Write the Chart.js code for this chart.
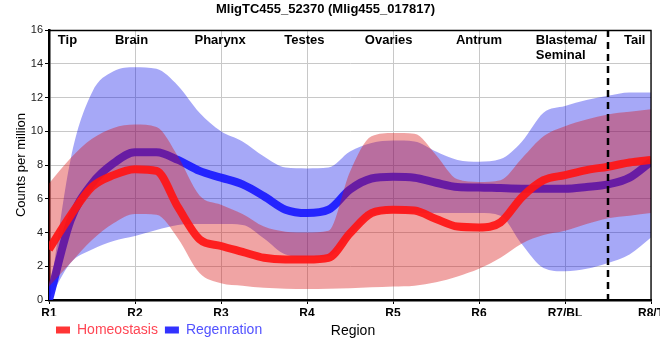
<!DOCTYPE html>
<html><head><meta charset="utf-8">
<script src="https://cdn.jsdelivr.net/npm/chart.js@4.4.0/dist/chart.umd.min.js"></script>
<style>html,body{margin:0;padding:0;background:#fff}#wrap{width:660px;height:360px}</style>
</head><body><div id="wrap"><canvas id="c" width="660" height="360"></canvas></div>
<script>
// ---- data ----
const chartTitle = 'MligTC455_52370 (Mlig455_017817)';
const regionTicks = ['R1','R2','R3','R4','R5','R6','R7/BL','R8/T'];
const regionNames = ['Tip','Brain','Pharynx','Testes','Ovaries','Antrum','Blastema/\nSeminal','Tail'];
const seriesNames = ['Homeostasis','Regenration'];
const tailBoundary = 6.5;
// sample positions along the region axis (R1 = 0 ... R8/T = 7)
const samplePos = [0,0.25,0.5,0.75,1,1.25,1.5,1.75,2,2.25,2.5,2.75,3,3.25,3.5,3.75,4,4.25,4.5,4.75,5,5.25,5.5,5.75,6,6.25,6.5,6.75,7];
const homMean = [3.0,5.0,6.7,7.4,7.75,7.65,5.5,3.6,3.2,2.85,2.5,2.4,2.4,2.5,3.95,5.15,5.35,5.3,4.8,4.35,4.3,4.6,6.1,7.1,7.4,7.7,7.9,8.15,8.3];
const homHigh = [6.9,8.4,9.55,10.2,10.4,10.25,8.5,6.2,5.65,5.1,4.35,4.05,4.0,4.1,7.6,9.7,9.9,9.85,8.6,7.15,7.0,7.1,8.4,9.7,10.3,10.7,11.0,11.15,11.3];
const homLow = [0.8,2.2,3.55,4.55,5.1,5.05,3.65,1.6,1.0,0.85,0.72,0.67,0.65,0.67,0.7,0.75,0.8,0.85,1.05,1.4,1.85,2.5,3.35,3.85,4.1,4.5,4.85,5.0,5.15];
const regMean = [0,4.7,6.9,8.1,8.75,8.75,8.3,7.65,7.25,6.85,6.15,5.35,5.15,5.35,6.55,7.2,7.3,7.25,6.95,6.7,6.67,6.63,6.6,6.6,6.6,6.7,6.85,7.25,8.2];
const regHigh = [0,8.3,12.3,13.55,13.8,13.7,12.7,11.1,10.0,9.4,8.5,7.85,7.8,7.85,8.8,9.3,9.45,9.4,8.8,8.3,8.2,8.35,9.4,11.1,11.5,11.85,12.1,12.3,12.3];
const regLow = [0,2.2,3.0,3.5,3.8,4.15,4.45,4.5,4.5,4.45,3.65,2.7,2.55,2.6,3.8,5.0,5.15,5.15,5.15,5.15,5.15,5.0,3.3,1.9,1.7,1.85,2.2,2.7,3.7];

// ---- styling ----
const FONT = '"Liberation Sans", Arial, sans-serif';
const RED_LINE = 'rgba(255,22,22,0.93)';
const RED_BAND = 'rgba(215,15,15,0.38)';
const BLUE_LINE = 'rgba(25,25,255,0.92)';
const BLUE_BAND = 'rgba(0,5,232,0.35)';
const pts = arr => samplePos.map((p, i) => ({x: p, y: arr[i]}));

// region label placement (x in axis units, alignment)
const labelPos = [0.215, 0.96, 1.99, 2.97, 3.95, 5.0, 5.66, 6.81];
const labelAlign = ['center','center','center','center','center','center','left','center'];

const decor = {
  id: 'decor',
  afterDatasetsDraw(chart) {
    const {ctx, chartArea: a, scales: {x}} = chart;
    ctx.save();
    const xd = x.getPixelForValue(tailBoundary);
    ctx.strokeStyle = '#000';
    ctx.lineWidth = 2.5;
    ctx.setLineDash([7, 5]);
    ctx.beginPath(); ctx.moveTo(xd, a.top); ctx.lineTo(xd, a.bottom + 4); ctx.stroke();
    ctx.setLineDash([]);
    ctx.lineWidth = 1.3;
    ctx.beginPath(); ctx.moveTo(a.left, a.top + 0.5); ctx.lineTo(a.right, a.top + 0.5); ctx.lineTo(a.right, a.bottom); ctx.stroke();
    ctx.font = 'bold 13px ' + FONT;
    ctx.fillStyle = '#000';
    ctx.textBaseline = 'alphabetic';
    regionNames.forEach((name, i) => {
      const px = x.getPixelForValue(labelPos[i]);
      ctx.textAlign = labelAlign[i];
      name.split('\n').forEach((ln, j) => ctx.fillText(ln, px, a.top + 14 + j * 15));
    });
    ctx.restore();
  },
  afterDraw(chart) {
    const {ctx, chartArea: a} = chart;
    ctx.save();
    ctx.font = '14px ' + FONT;
    ctx.fillStyle = '#000';
    ctx.textAlign = 'center';
    ctx.textBaseline = 'middle';
    ctx.fillText('Region', (a.left + a.right) / 2 + 3, 331);
    ctx.restore();
  }
};

new Chart(document.getElementById('c'), {
  type: 'line',
  data: {
    datasets: [
      {label: seriesNames[0], data: pts(homMean), borderColor: RED_LINE, backgroundColor: RED_LINE, borderWidth: 8, pointRadius: 0, fill: false, cubicInterpolationMode: 'monotone', order: 1},
      {label: 'hom-high', data: pts(homHigh), borderWidth: 0, borderColor: 'rgba(0,0,0,0)', backgroundColor: RED_BAND, pointRadius: 0, fill: '+1', cubicInterpolationMode: 'monotone', order: 2},
      {label: 'hom-low', data: pts(homLow), borderWidth: 0, borderColor: 'rgba(0,0,0,0)', pointRadius: 0, fill: false, cubicInterpolationMode: 'monotone', order: 2},
      {label: seriesNames[1], data: pts(regMean), borderColor: BLUE_LINE, backgroundColor: BLUE_LINE, borderWidth: 8, pointRadius: 0, fill: false, cubicInterpolationMode: 'monotone', order: 3},
      {label: 'reg-high', data: pts(regHigh), borderWidth: 0, borderColor: 'rgba(0,0,0,0)', backgroundColor: BLUE_BAND, pointRadius: 0, fill: '+1', cubicInterpolationMode: 'monotone', order: 4},
      {label: 'reg-low', data: pts(regLow), borderWidth: 0, borderColor: 'rgba(0,0,0,0)', pointRadius: 0, fill: false, cubicInterpolationMode: 'monotone', order: 4}
    ]
  },
  options: {
    responsive: false,
    animation: false,
    devicePixelRatio: 1,
    layout: {padding: {left: 0, right: 9, top: 0, bottom: 13}},
    plugins: {
      title: {display: true, text: chartTitle, color: '#000', font: {family: FONT, size: 13, weight: 'bold'}, padding: {top: 2, bottom: 12.4}},
      tooltip: {enabled: false},
      legend: {
        display: true, position: 'bottom', align: 'start', fullSize: false,
        labels: {
          boxWidth: 14, boxHeight: 7, padding: 7,
          font: {family: FONT, size: 14},
          generateLabels(chart) {
            const ds = chart.data.datasets;
            return [
              {text: ds[0].label, fillStyle: '#ff3535', strokeStyle: '#ff3535', lineWidth: 0, fontColor: '#ff4654', datasetIndex: 0, hidden: false},
              {text: ds[3].label, fillStyle: '#3232ff', strokeStyle: '#3232ff', lineWidth: 0, fontColor: '#5252ff', datasetIndex: 3, hidden: false}
            ];
          }
        }
      }
    },
    scales: {
      x: {
        type: 'linear', min: 0, max: 7,
        afterBuildTicks(s) { s.ticks = regionTicks.map((_, i) => ({value: i})); },
        afterFit(s) { s.height = 16; s.paddingLeft = 0; s.paddingRight = 0; },
        ticks: {autoSkip: false, maxRotation: 0, padding: 2, color: '#000', font: {family: FONT, size: 12, weight: 'bold'}, callback: v => regionTicks[v]},
        grid: {color: '#c8c8c8', lineWidth: 1, tickLength: 4, tickColor: '#000'},
        border: {color: '#000', width: 2.5}
      },
      y: {
        min: 0, max: 16,
        afterFit(s) { s.width = 49; s.paddingTop = 0; s.paddingBottom = 0; },
        ticks: {stepSize: 2, padding: 2, color: '#222', font: {family: FONT, size: 11}},
        grid: {color: '#c8c8c8', lineWidth: 1, tickLength: 4, tickColor: '#000'},
        border: {color: '#000', width: 2.5},
        title: {display: true, text: 'Counts per million', color: '#000', font: {family: FONT, size: 13}, padding: {top: 14, bottom: 0}}
      }
    }
  },
  plugins: [decor]
});
</script>
</body></html>
